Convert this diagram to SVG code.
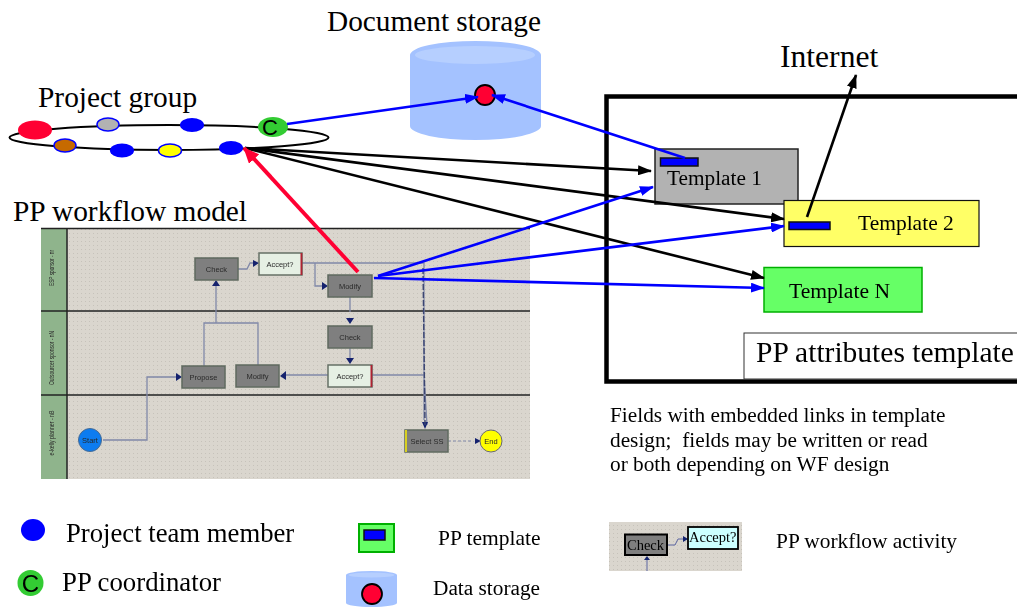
<svg xmlns="http://www.w3.org/2000/svg" width="1017" height="608" viewBox="0 0 1017 608">
<style>
text{font-family:"Liberation Serif","Times New Roman",serif;fill:#000}
.blue{stroke:#00f;stroke-width:2.6;fill:none}
.black{stroke:#000;stroke-width:2.6;fill:none}
.red{stroke:#ff0033;stroke-width:4;fill:none}
.bar{fill:#00f;stroke:#111;stroke-width:1.5}
.m{fill:#00f}
.act{fill:#7f7f7f;stroke:#5f6a5f;stroke-width:1.5}
.acc{fill:#e6f0e4;stroke:#667066;stroke-width:1.5}
.ll{font-family:"Liberation Sans",Arial,sans-serif;font-size:7.5px;fill:#2a2a2a;text-anchor:middle}
.lane{stroke:#222;stroke-width:1.6}
.w{fill:none;stroke:#8088a8;stroke-width:1.3}
.wd{fill:#14246e}
.note{font-size:21.300px}
</style>
<defs>
<pattern id="dots" width="4" height="4" patternUnits="userSpaceOnUse"><rect width="4" height="4" fill="#dad6ce"/><rect x="1" y="1" width="1" height="1" fill="#c6c2ba"/></pattern>
<marker id="ab" markerWidth="14" markerHeight="10" refX="13" refY="5" orient="auto" markerUnits="userSpaceOnUse"><path d="M0 0L14 5L0 10z" fill="#00f"/></marker>
<marker id="ak" markerWidth="14" markerHeight="10" refX="13" refY="5" orient="auto" markerUnits="userSpaceOnUse"><path d="M0 0L14 5L0 10z" fill="#000"/></marker>
<marker id="ar" markerWidth="16" markerHeight="14" refX="15" refY="7" orient="auto" markerUnits="userSpaceOnUse"><path d="M0 0L16 7L0 14z" fill="#ff0033"/></marker>
<filter id="soft" x="-2%" y="-2%" width="104%" height="104%"><feGaussianBlur stdDeviation="0.7"/></filter>
</defs>

<text x="327" y="31" font-size="29.300">Document storage</text>
<text x="780" y="67" font-size="31.600">Internet</text>
<text x="38" y="107" font-size="29.400">Project group</text>
<text x="13" y="221" font-size="29.400">PP workflow model</text>

<g id="storage">
<path d="M410 55A65.500 14 0 0 1 541 55V126A65.500 14 0 0 1 410 126z" fill="#a4c2ff"/>
<ellipse cx="475" cy="55" rx="60" ry="9" fill="#b6cfff"/>
<circle cx="485" cy="95" r="10" fill="#ff0033" stroke="#000" stroke-width="1.800"/>
</g>

<g id="project-group">
<ellipse cx="169" cy="137.500" rx="159.500" ry="12.500" fill="none" stroke="#000" stroke-width="2"/>
<ellipse cx="35" cy="130" rx="17" ry="9.500" fill="#ff0033"/>
<ellipse cx="108" cy="124.500" rx="11" ry="6.500" fill="#b2b2b2" stroke="#00f" stroke-width="1.500"/>
<ellipse cx="192" cy="125" rx="12" ry="7" class="m"/>
<ellipse cx="65" cy="145.500" rx="11" ry="6.500" fill="#c66a00" stroke="#00f" stroke-width="1.500"/>
<ellipse cx="122" cy="150.500" rx="12" ry="7" class="m"/>
<ellipse cx="170" cy="150.500" rx="11.500" ry="6.500" fill="#ff0" stroke="#00f" stroke-width="1.500"/>
<ellipse cx="231" cy="148" rx="12" ry="7" class="m"/>
<ellipse cx="273" cy="127" rx="15" ry="10" fill="#33cc33"/>
<text x="270" y="135" font-size="22" text-anchor="middle" style="font-family:'Liberation Sans',Arial,sans-serif">C</text>
</g>

<g id="workflow-model">
<g filter="url(#soft)">
<rect x="41" y="228" width="489" height="251" fill="url(#dots)"/>
<rect x="41" y="228" width="26" height="251" fill="#8fb48c"/>
<line x1="67" y1="228" x2="67" y2="479" stroke="#222" stroke-width="1.500"/>
<line class="lane" x1="41" y1="228.500" x2="530" y2="228.500"/>
<line class="lane" x1="41" y1="311" x2="530" y2="311"/>
<line class="lane" x1="41" y1="395" x2="530" y2="395"/>
<text class="ll" transform="translate(54,268) rotate(-90)" textLength="36" lengthAdjust="spacingAndGlyphs">ESP sponsor - nr</text>
<text class="ll" transform="translate(54,358) rotate(-90)" textLength="54" lengthAdjust="spacingAndGlyphs">Outsourcer sponsor - nN</text>
<text class="ll" transform="translate(54,433) rotate(-90)" textLength="45" lengthAdjust="spacingAndGlyphs">e-kelly planner - nB</text>

<path class="w" d="M103 440H147V377H176M204 366V323H216V286M258 366V323H216M238 269H247L250 263H253M302 263H315V286H322M302 263H424V420M350 297V312M350 348V358M372 375H424L427 425M328 375H286"/>
<path class="wd" d="M176 373L182 377L176 381zM212 286L216 280L220 286zM253 260L259 263L253 267zM322 282L328 286L322 290zM346 318H354L350 324zM346 358H354L350 364zM286 371L280 376L286 380zM422 422L425 429L428 422z"/>
<path d="M423 268L425 425" stroke="#3a4470" stroke-width="1.400" stroke-dasharray="6 2" fill="none"/>
<path d="M448 441H472" stroke="#8088a8" stroke-width="1.200" stroke-dasharray="3 2" fill="none"/>
<path class="wd" d="M475 438L481 441L475 444z"/>

<g id="wf-check"><rect class="act" x="195" y="258" width="43" height="22"/><text class="ll" x="216.500" y="272">Check</text></g>
<g id="wf-accept"><rect class="acc" x="259" y="253" width="43" height="22"/><rect x="300.500" y="253" width="1.800" height="22" fill="#b02030"/><text class="ll" x="280" y="267">Accept?</text></g>
<g id="wf-modify"><rect class="act" x="328" y="275" width="44" height="22"/><text class="ll" x="350" y="289">Modify</text></g>
<g id="wf-check2"><rect class="act" x="328" y="326" width="44" height="22"/><text class="ll" x="350" y="340">Check</text></g>
<g id="wf-accept2"><rect class="acc" x="328" y="365" width="44" height="22"/><rect x="370.500" y="365" width="1.800" height="22" fill="#b02030"/><text class="ll" x="350" y="379">Accept?</text></g>
<g id="wf-propose"><rect class="act" x="182" y="366" width="43" height="22"/><text class="ll" x="203.500" y="380">Propose</text></g>
<g id="wf-modify2"><rect class="act" x="236" y="365" width="43" height="22"/><text class="ll" x="257.500" y="379">Modify</text></g>
<g id="wf-select"><rect class="act" x="405" y="430" width="43" height="22"/><rect x="405" y="430" width="2" height="22" fill="#d8d020"/><text class="ll" x="427" y="444">Select SS</text></g>
<g id="wf-start"><circle cx="90" cy="440" r="11.500" fill="#0a7cf0" stroke="#4a6a90" stroke-width="1"/><text class="ll" x="90" y="443">Start</text></g>
<g id="wf-end"><circle cx="491" cy="441" r="11" fill="#ff0" stroke="#667" stroke-width="1"/><text class="ll" x="491" y="444">End</text></g>
</g>
</g>

<g id="attributes-frame">
<rect x="606.500" y="96.500" width="420" height="285" fill="none" stroke="#000" stroke-width="4.500"/>
<rect x="744" y="333" width="290" height="46" fill="#fff" stroke="#333" stroke-width="1"/>
<text x="756" y="362" font-size="29.500">PP attributes template</text>
</g>

<g id="template-1">
<rect x="655" y="149" width="143" height="55" fill="#b2b2b2" stroke="#222" stroke-width="1.500"/>
<rect class="bar" x="660.500" y="158" width="37.500" height="8"/>
<text x="667" y="185" font-size="21.300">Template 1</text>
</g>
<g id="template-n">
<rect x="764" y="267.500" width="158" height="44.500" fill="#66ff66" stroke="#00b000" stroke-width="1.500"/>
<text x="789" y="298" font-size="21.600">Template N</text>
</g>
<g id="template-2">
<rect x="784" y="200.500" width="195" height="46" fill="#ffff66" stroke="#111" stroke-width="1.200"/>
<rect class="bar" x="789" y="222" width="41" height="7.500"/>
<text x="858" y="230" font-size="21.500">Template 2</text>
</g>

<g id="connectors">
<line class="blue" x1="287" y1="124" x2="478" y2="97" marker-end="url(#ab)"/>
<line class="blue" x1="685" y1="158" x2="492" y2="95" marker-end="url(#ab)"/>
<line class="black" x1="245" y1="148" x2="651" y2="171" marker-end="url(#ak)"/>
<line class="black" x1="245" y1="148" x2="784" y2="219" marker-end="url(#ak)"/>
<line class="black" x1="245" y1="148" x2="764" y2="278" marker-end="url(#ak)"/>
<line class="blue" x1="378" y1="276" x2="653" y2="187" marker-end="url(#ab)"/>
<line class="blue" x1="378" y1="276" x2="784" y2="226" marker-end="url(#ab)"/>
<line class="blue" x1="374" y1="278" x2="764" y2="288" marker-end="url(#ab)"/>
<line class="black" x1="807" y1="217" x2="856" y2="75" marker-end="url(#ak)"/>
<line class="red" x1="358" y1="272" x2="244" y2="148" marker-end="url(#ar)"/>
</g>

<g id="note">
<text class="note" x="610" y="422">Fields with embedded links in template</text>
<text class="note" x="610" y="447" xml:space="preserve">design;  fields may be written or read</text>
<text class="note" x="610" y="471">or both depending on WF design</text>
</g>

<g id="legend-member"><ellipse cx="33" cy="530" rx="12" ry="11" class="m"/><text x="66" y="542" font-size="26.700">Project team member</text></g>
<g id="legend-coordinator"><circle cx="30.500" cy="583" r="13" fill="#33cc33"/><text x="30.500" y="592" font-size="24" text-anchor="middle" style="font-family:'Liberation Sans',Arial,sans-serif">C</text><text x="62" y="591" font-size="26.800">PP coordinator</text></g>
<g id="legend-template"><rect x="359" y="524" width="35" height="28" fill="#66ff66" stroke="#00b000" stroke-width="2"/><rect class="bar" x="364" y="530" width="21" height="10"/><text x="438" y="545" font-size="21.500">PP template</text></g>
<g id="legend-storage"><path d="M346 575A25.500 4 0 0 1 397 575V603A25.500 4 0 0 1 346 603z" fill="#a4c2ff"/><ellipse cx="371.500" cy="575" rx="23" ry="2.500" fill="#b6cfff"/><circle cx="372" cy="594" r="10" fill="#ff0033" stroke="#000" stroke-width="1.800"/><text x="433" y="595" font-size="21.300">Data storage</text></g>
<g id="legend-activity">
<rect x="609" y="522" width="133" height="49" fill="url(#dots)"/>
<path d="M667 545H675L678 539H687M647 571V560" stroke="#5a64a0" stroke-width="1" fill="none"/>
<path class="wd" d="M683 536L688 539L683 542zM644 560L647 556L650 560z"/>
<rect x="625" y="534.500" width="42" height="20.500" fill="#7f7f7f" stroke="#000" stroke-width="2"/>
<text x="627" y="549.500" font-size="14.500">Check</text>
<rect x="688" y="527" width="50" height="22" fill="#ccffff" stroke="#000" stroke-width="1.800"/>
<text x="689" y="542" font-size="14.500">Accept?</text>
<text x="776" y="548" font-size="21.400">PP workflow activity</text>
</g>
</svg>
